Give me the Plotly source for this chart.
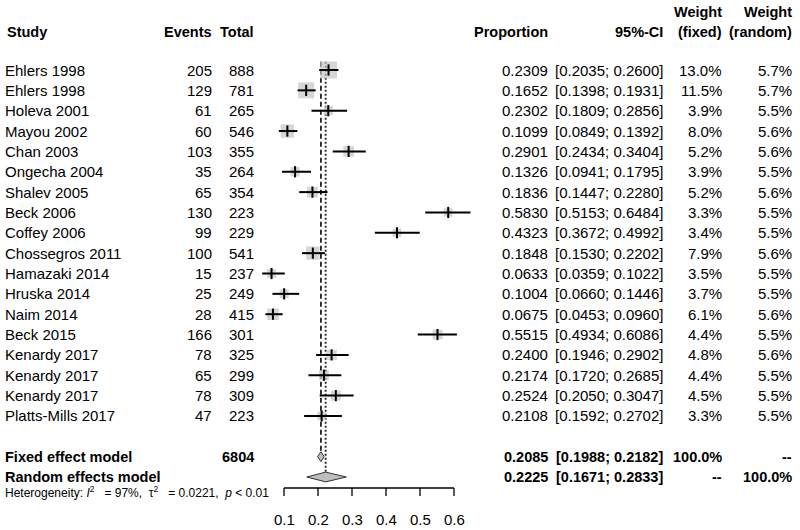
import math
import plotly.graph_objects as go

# ---------------- data ----------------
studies = ["Ehlers 1998", "Ehlers 1998", "Holeva 2001", "Mayou 2002", "Chan 2003",
           "Ongecha 2004", "Shalev 2005", "Beck 2006", "Coffey 2006", "Chossegros 2011",
           "Hamazaki 2014", "Hruska 2014", "Naim 2014", "Beck 2015", "Kenardy 2017",
           "Kenardy 2017", "Kenardy 2017", "Platts-Mills 2017"]
events = [205, 129, 61, 60, 103, 35, 65, 130, 99, 100, 15, 25, 28, 166, 78, 65, 78, 47]
totals = [888, 781, 265, 546, 355, 264, 354, 223, 229, 541, 237, 249, 415, 301, 325, 299, 309, 223]
proportions = [0.2309, 0.1652, 0.2302, 0.1099, 0.2901, 0.1326, 0.1836, 0.5830, 0.4323,
               0.1848, 0.0633, 0.1004, 0.0675, 0.5515, 0.2400, 0.2174, 0.2524, 0.2108]
ci_lower = [0.2035, 0.1398, 0.1809, 0.0849, 0.2434, 0.0941, 0.1447, 0.5153, 0.3672,
            0.1530, 0.0359, 0.0660, 0.0453, 0.4934, 0.1946, 0.1720, 0.2050, 0.1592]
ci_upper = [0.2600, 0.1931, 0.2856, 0.1392, 0.3404, 0.1795, 0.2280, 0.6484, 0.4992,
            0.2202, 0.1022, 0.1446, 0.0960, 0.6086, 0.2902, 0.2685, 0.3047, 0.2702]
weight_fixed = [13.0, 11.5, 3.9, 8.0, 5.2, 3.9, 5.2, 3.3, 3.4, 7.9, 3.5, 3.7, 6.1, 4.4,
                4.8, 4.4, 4.5, 3.3]
weight_random = [5.7, 5.7, 5.5, 5.6, 5.6, 5.5, 5.6, 5.5, 5.5, 5.6, 5.5, 5.5, 5.6, 5.5,
                 5.6, 5.5, 5.5, 5.5]

fixed_total = 6804
fixed_est, fixed_lo, fixed_hi = 0.2085, 0.1988, 0.2182
random_est, random_lo, random_hi = 0.2225, 0.1671, 0.2833
het_i2 = "97%"
het_tau2 = "0.0221"
het_p = "0.01"

tick_values = [0.1, 0.2, 0.3, 0.4, 0.5, 0.6]
tick_labels = ["0.1", "0.2", "0.3", "0.4", "0.5", "0.6"]

# ---------------- layout helpers ----------------
W, H = 800, 530
FONT = "Arial, Liberation Sans, sans-serif"
study_rows = list(range(1, len(studies) + 1))
fixed_row = len(studies) + 2
random_row = fixed_row + 1
het_row = random_row + 0.74
axis_row = random_row + 0.54
tick_len = 0.39
ticklabel_row = random_row + 2.1
header_rows = (-1.85, -0.87)
diamond_h = 0.24


def px(xpix):
    return xpix / W


fig = go.Figure()

# reference lines (fixed: dashed, random: dotted)
fig.add_trace(go.Scatter(x=[fixed_est, fixed_est], y=[0.6, fixed_row - diamond_h],
                         mode="lines", line=dict(color="#222", width=1.8, dash="5px,3px"),
                         hoverinfo="skip"))
fig.add_trace(go.Scatter(x=[random_est, random_est], y=[0.6, random_row - diamond_h],
                         mode="lines", line=dict(color="#222", width=1.8, dash="2px,2px"),
                         hoverinfo="skip"))

# weight boxes
fig.add_trace(go.Scatter(x=proportions, y=study_rows, mode="markers",
                         marker=dict(symbol="square", color="#c4c4c4",
                                     size=[4.7 * math.sqrt(w) for w in weight_fixed],
                                     line=dict(width=0)),
                         hoverinfo="skip"))

# CI lines
cx, cy = [], []
for lo, hi, r in zip(ci_lower, ci_upper, study_rows):
    cx += [lo, hi, None]
    cy += [r, r, None]
fig.add_trace(go.Scatter(x=cx, y=cy, mode="lines", line=dict(color="black", width=2),
                         hoverinfo="skip"))

# point estimate ticks
fig.add_trace(go.Scatter(x=proportions, y=study_rows, mode="markers",
                         marker=dict(symbol="line-ns", size=8,
                                     line=dict(width=2, color="black")),
                         hoverinfo="skip"))

# diamonds
for est, lo, hi, r in [(fixed_est, fixed_lo, fixed_hi, fixed_row),
                       (random_est, random_lo, random_hi, random_row)]:
    fig.add_trace(go.Scatter(x=[lo, est, hi, est, lo],
                             y=[r, r - diamond_h, r, r + diamond_h, r],
                             mode="lines", fill="toself", fillcolor="#bebebe",
                             line=dict(color="#333", width=1), hoverinfo="skip"))

# x axis (drawn in data coordinates)
ax_x = [tick_values[0], tick_values[-1], None]
ax_y = [axis_row, axis_row, None]
for t in tick_values:
    ax_x += [t, t, None]
    ax_y += [axis_row, axis_row + tick_len, None]
fig.add_trace(go.Scatter(x=ax_x, y=ax_y, mode="lines", line=dict(color="black", width=1.3),
                         hoverinfo="skip"))
for t, lab in zip(tick_values, tick_labels):
    fig.add_annotation(x=t, y=ticklabel_row, xref="x", yref="y", text=lab, showarrow=False,
                       xanchor="center", yanchor="middle",
                       font=dict(family=FONT, size=15, color="black"))


def txt(xpix, row, text, anchor="right", bold=False, size=15):
    if bold:
        text = "<b>" + text + "</b>"
    fig.add_annotation(x=px(xpix), y=row, xref="paper", yref="y", text=text,
                       showarrow=False, xanchor=anchor, yanchor="middle",
                       font=dict(family=FONT, size=size, color="black"))


# header
hb = 14.5
txt(5, header_rows[1], "Study", "left", True, hb)
txt(214, header_rows[1], "Events", "right", True, hb)
txt(256, header_rows[1], "Total", "right", True, hb)
txt(550, header_rows[1], "Proportion", "right", True, hb)
txt(665, header_rows[1], "95%-CI", "right", True, hb)
txt(724, header_rows[0], "Weight", "right", True, hb)
txt(724, header_rows[1], "(fixed)", "right", True, hb)
txt(794, header_rows[0], "Weight", "right", True, hb)
txt(794, header_rows[1], "(random)", "right", True, hb)

# study rows
for i, r in enumerate(study_rows):
    txt(3, r, studies[i], "left")
    txt(214, r, str(events[i]))
    txt(256, r, str(totals[i]))
    txt(550, r, f"{proportions[i]:.4f}")
    txt(665, r, f"[{ci_lower[i]:.4f}; {ci_upper[i]:.4f}]")
    txt(724, r, f"{weight_fixed[i]:.1f}%")
    txt(794, r, f"{weight_random[i]:.1f}%")

# summary rows
txt(3, fixed_row, "Fixed effect model", "left", True, hb)
txt(256, fixed_row, str(fixed_total), "right", True, hb)
txt(550, fixed_row, f"{fixed_est:.4f}", "right", True, hb)
txt(665, fixed_row, f"[{fixed_lo:.4f}; {fixed_hi:.4f}]", "right", True, hb)
txt(724, fixed_row, "100.0%", "right", True, hb)
txt(794, fixed_row, "--", "right", True, hb)

txt(3, random_row, "Random effects model", "left", True, hb)
txt(550, random_row, f"{random_est:.4f}", "right", True, hb)
txt(665, random_row, f"[{random_lo:.4f}; {random_hi:.4f}]", "right", True, hb)
txt(724, random_row, "--", "right", True, hb)
txt(794, random_row, "100.0%", "right", True, hb)

txt(3, het_row,
    f"Heterogeneity: <i>I</i><sup>2</sup>&nbsp;&nbsp; = {het_i2},&nbsp; "
    f"τ<sup>2</sup>&nbsp;&nbsp; = {het_tau2},&nbsp; <i>p</i> &lt; {het_p}",
    "left", False, 12)

# axes ranges: 0.1 -> 284px, 0.6 -> 454px; row 1 -> 70px, 20.35px per row
sx = 340.0
x0 = 0.1 - 284 / sx
x1 = 0.1 + (W - 284) / sx
sy = 20.35
y_top = 1 - 70 / sy
y_bot = 1 + (H - 70) / sy

fig.update_layout(
    width=W, height=H, margin=dict(l=0, r=0, t=0, b=0),
    paper_bgcolor="white", plot_bgcolor="white", showlegend=False,
    xaxis=dict(range=[x0, x1], visible=False, fixedrange=True),
    yaxis=dict(range=[y_bot, y_top], visible=False, fixedrange=True),
)

# remove the browser's default 8px body margin so the figure fills the window
fig.write_html("out.html",
               config={"displayModeBar": False, "staticPlot": True},
               post_script="document.body.style.margin='0';"
                           "document.body.style.overflow='hidden';")
